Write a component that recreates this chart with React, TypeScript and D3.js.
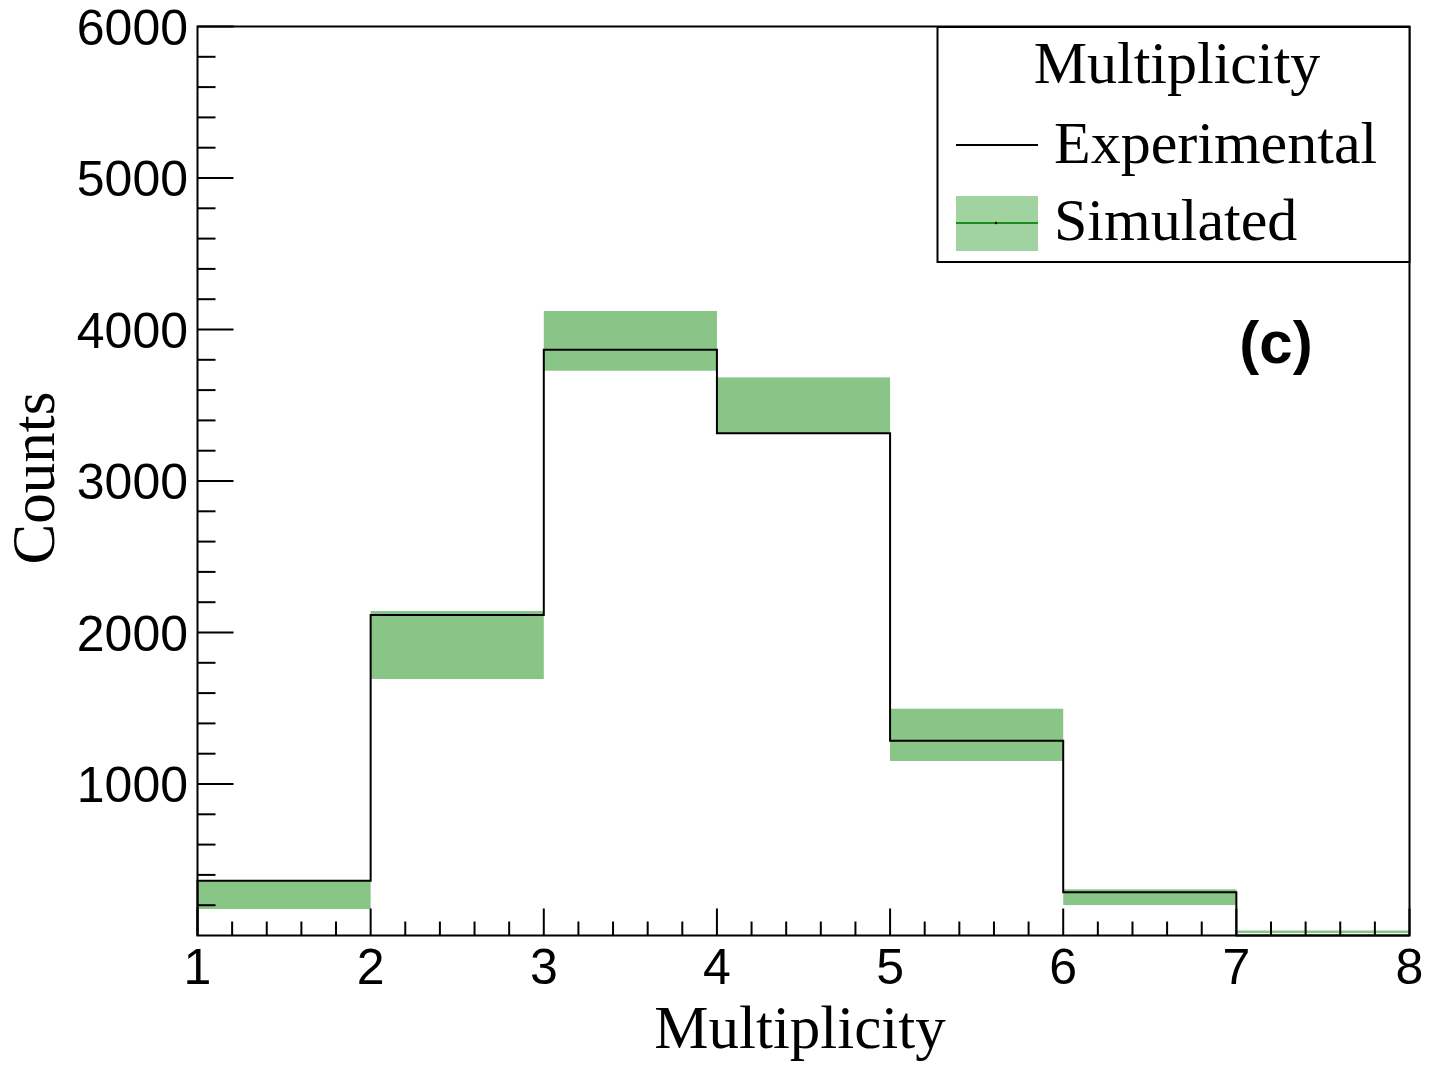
import React from 'react';
import * as d3 from 'd3';

// bin edges of the multiplicity histogram
const binEdges = [1, 2, 3, 4, 5, 6, 7, 8];
// experimental counts per bin
const experimental = [362, 2115, 3867, 3315, 1286, 285, 0];
// simulated band (low / high) per bin
const simLow = [175, 1693, 3728, 3315, 1152, 201, 16];
const simHigh = [360, 2142, 4122, 3684, 1497, 305, 33];

const yTickValues = [1000, 2000, 3000, 4000, 5000, 6000];
const xTickValues = [1, 2, 3, 4, 5, 6, 7, 8];
const legendTitle = 'Multiplicity';
const legendLabels = ['Experimental', 'Simulated'];

const W = 1437;
const H = 1074;
const frame = { left: 197.5, right: 1409.5, top: 26.5, bottom: 935.5 };

const sans = '"Liberation Sans", Arial, sans-serif';
const serif = '"Liberation Serif", "Times New Roman", serif';
const bandFill = '#88c587';

const App: React.FC = () => {
  const x = d3.scaleLinear().domain([1, 8]).range([frame.left, frame.right]);
  const y = d3.scaleLinear().domain([0, 6000]).range([frame.bottom, frame.top]);

  // step outline for the experimental histogram
  const pts: [number, number][] = [[binEdges[0], 0]];
  experimental.forEach((v, i) => {
    pts.push([binEdges[i], v]);
    pts.push([binEdges[i + 1], v]);
  });
  pts.push([binEdges[binEdges.length - 1], 0]);
  const stepPath = d3
    .line<[number, number]>()
    .x((d) => x(d[0]))
    .y((d) => y(d[1]))(pts);

  const yMinor = d3.range(0, 6001, 200).filter((v) => v % 1000 !== 0);
  const xMinor = d3.range(1, 8.001, 0.2).filter((v) => Math.abs(v - Math.round(v)) > 1e-6);

  return (
    <svg
      width={W}
      height={H}
      style={{ position: 'absolute', left: 0, top: 0, background: '#fff' }}
    >
      {/* simulated band */}
      <g>
        {simLow.map((lo, i) => (
          <rect
            key={i}
            x={x(binEdges[i])}
            width={x(binEdges[i + 1]) - x(binEdges[i])}
            y={y(simHigh[i])}
            height={Math.max(1, y(lo) - y(simHigh[i]))}
            fill={bandFill}
          />
        ))}
      </g>

      {/* experimental */}
      <path d={stepPath || ''} fill="none" stroke="#000" strokeWidth={2} />

      {/* frame */}
      <rect
        x={frame.left}
        y={frame.top}
        width={frame.right - frame.left}
        height={frame.bottom - frame.top}
        fill="none"
        stroke="#000"
        strokeWidth={2}
      />

      {/* y axis ticks */}
      <g stroke="#000" strokeWidth={2}>
        {yMinor.map((v) => (
          <line key={v} x1={frame.left} x2={frame.left + 18} y1={y(v)} y2={y(v)} />
        ))}
        {yTickValues.map((v) => (
          <line key={v} x1={frame.left} x2={frame.left + 36} y1={y(v)} y2={y(v)} />
        ))}
      </g>
      <g fontFamily={sans} fontSize={50} textAnchor="end">
        {yTickValues.map((v) => (
          <text key={v} x={188} y={y(v) + 18}>
            {v}
          </text>
        ))}
      </g>

      {/* x axis ticks */}
      <g stroke="#000" strokeWidth={2}>
        {xMinor.map((v) => (
          <line key={v} x1={x(v)} x2={x(v)} y1={frame.bottom} y2={frame.bottom - 14} />
        ))}
        {xTickValues.map((v) => (
          <line key={v} x1={x(v)} x2={x(v)} y1={frame.bottom} y2={frame.bottom - 27} />
        ))}
      </g>
      <g fontFamily={sans} fontSize={50} textAnchor="middle">
        {xTickValues.map((v) => (
          <text key={v} x={x(v)} y={984}>
            {v}
          </text>
        ))}
      </g>

      {/* axis titles */}
      <text x={800} y={1048} fontFamily={serif} fontSize={61} textAnchor="middle">
        Multiplicity
      </text>
      <text
        transform="translate(54,478) rotate(-90)"
        fontFamily={serif}
        fontSize={61}
        textAnchor="middle"
      >
        Counts
      </text>

      {/* panel label */}
      <text x={1276} y={363} fontFamily={sans} fontSize={60} fontWeight="bold" textAnchor="middle">
        (c)
      </text>

      {/* legend */}
      <g>
        <rect x={937.5} y={27} width={472} height={235} fill="#fff" stroke="#000" strokeWidth={2} />
        <text x={1177} y={83} fontFamily={serif} fontSize={60} textAnchor="middle">
          {legendTitle}
        </text>
        <line x1={956} x2={1038} y1={145} y2={145} stroke="#000" strokeWidth={2} />
        <text x={1054} y={163} fontFamily={serif} fontSize={60}>
          {legendLabels[0]}
        </text>
        <rect x={956} y={196} width={82} height={55} fill="#a0d39f" />
        <line x1={956} x2={1038} y1={223} y2={223} stroke="#1e8c1e" strokeWidth={2} />
        <circle cx={996} cy={223} r={1.2} fill="#000" />
        <text x={1054} y={240} fontFamily={serif} fontSize={60}>
          {legendLabels[1]}
        </text>
      </g>
    </svg>
  );
};

export default App;
